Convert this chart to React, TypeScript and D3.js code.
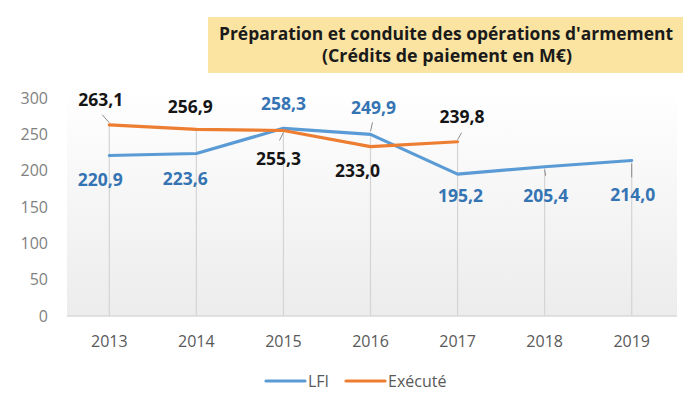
import React from "react";
import * as d3 from "d3";

const years = ["2013", "2014", "2015", "2016", "2017", "2018", "2019"];
const lfi = [220.9, 223.6, 258.3, 249.9, 195.2, 205.4, 214.0];
const execute = [263.1, 256.9, 255.3, 233.0, 239.8];
const yTicks = [0, 50, 100, 150, 200, 250, 300];
const seriesNames = ["LFI", "Exécuté"];
const titleLines = ["Préparation  et conduite  des opérations  d'armement", "(Crédits  de paiement  en M€)"];

// label layout (offset of label centre/baseline from point, optional leader vector)
const lfiLabelLayout = [
  { dx: -9, dy: 31 },
  { dx: -11, dy: 31.5 },
  { dx: 0, dy: -18 },
  { dx: 3, dy: -20, lx: 2, ly: -12 },
  { dx: 3, dy: 28 },
  { dx: 1, dy: 35, lx: 1, ly: 9 },
  { dx: 1, dy: 41, lx: 0, ly: 17 },
];
const execLabelLayout = [
  { dx: -8.5, dy: -19, lx: -7, ly: -10 },
  { dx: -6, dy: -16 },
  { dx: -5, dy: 35, lx: -4, ly: 10 },
  { dx: -13, dy: 30 },
  { dx: 4.5, dy: -19, lx: 4, ly: -9 },
];

const W = 691;
const H = 405;
const BLUE = "#5B9BD5";
const ORANGE = "#ED7D31";
const FONT = "'Open Sans', 'Noto Sans', sans-serif";

export default function App() {
  const x = d3.scalePoint<string>().domain(years).range([109.3, 631.7]);
  const y = d3.scaleLinear().domain([0, 300]).range([316, 98]);
  const plotL = 67;
  const plotR = 677;

  const line = d3
    .line<number>()
    .x((_, i) => x(years[i]) as number)
    .y((d) => y(d));

  const maxAt = years.map((_, i) => Math.max(lfi[i] ?? 0, execute[i] ?? 0));
  const fmt = (v: number) => d3.format(".1f")(v).replace(".", ",");

  return (
    <div style={{ margin: -8 }}>
      <svg width={W} height={H} style={{ display: "block", fontFamily: FONT }}>
        <defs>
          <linearGradient id="plotGrad" x1="0" y1="0" x2="0" y2="1">
            <stop offset="0" stopColor="#ffffff" />
            <stop offset="1" stopColor="#ececec" />
          </linearGradient>
        </defs>
        <rect x={0} y={0} width={W} height={H} fill="#ffffff" />
        <rect x={6.5} y={7.5} width={681} height={420} fill="#ffffff" stroke="#d9d9d9" strokeWidth={1} />

        {/* plot area */}
        <rect x={plotL} y={y(300) - 10} width={plotR - plotL} height={y(0) - y(300) + 10} fill="url(#plotGrad)" />

        {/* drop lines */}
        {years.map((yr, i) => (
          <line
            key={"drop" + yr}
            x1={x(yr)}
            x2={x(yr)}
            y1={y(maxAt[i])}
            y2={y(0)}
            stroke="#d4d4d4"
            strokeWidth={1.2}
          />
        ))}

        {/* axis line */}
        <line x1={plotL} x2={plotR} y1={y(0)} y2={y(0)} stroke="#d9d9d9" strokeWidth={1.5} />

        {/* y tick labels */}
        {yTicks.map((t) => (
          <text key={"yt" + t} x={48} y={y(t)} dy="0.36em" textAnchor="end" fontSize={16} fill="#7f7f7f">
            {t}
          </text>
        ))}

        {/* x tick labels */}
        {years.map((yr) => (
          <text key={"xt" + yr} x={x(yr)} y={347} textAnchor="middle" fontSize={16} fill="#595959">
            {yr}
          </text>
        ))}

        {/* leader lines */}
        {lfi.map((v, i) => {
          const l = lfiLabelLayout[i] as any;
          if (l.lx === undefined) return null;
          const px = x(years[i]) as number;
          const py = y(v);
          return (
            <line key={"ll" + i} x1={px} y1={py + Math.sign(l.ly) * 3} x2={px + l.lx} y2={py + l.ly} stroke="#8c8c8c" strokeWidth={1} />
          );
        })}
        {execute.map((v, i) => {
          const l = execLabelLayout[i] as any;
          if (l.lx === undefined) return null;
          const px = x(years[i]) as number;
          const py = y(v);
          return (
            <line key={"le" + i} x1={px} y1={py + Math.sign(l.ly) * 2} x2={px + l.lx} y2={py + l.ly} stroke="#8c8c8c" strokeWidth={1} />
          );
        })}

        {/* series lines */}
        <path d={line(lfi) ?? ""} fill="none" stroke={BLUE} strokeWidth={3.2} strokeLinejoin="round" strokeLinecap="round" />
        <path d={line(execute) ?? ""} fill="none" stroke={ORANGE} strokeWidth={3.2} strokeLinejoin="round" strokeLinecap="round" />

        {/* data labels */}
        {lfi.map((v, i) => (
          <text
            key={"lb" + i}
            x={(x(years[i]) as number) + lfiLabelLayout[i].dx}
            y={y(v) + lfiLabelLayout[i].dy}
            textAnchor="middle"
            fontSize={17.5}
            fontWeight="bold"
            fill="#3574b3"
          >
            {fmt(v)}
          </text>
        ))}
        {execute.map((v, i) => (
          <text
            key={"lx" + i}
            x={(x(years[i]) as number) + execLabelLayout[i].dx}
            y={y(v) + execLabelLayout[i].dy}
            textAnchor="middle"
            fontSize={17.5}
            fontWeight="bold"
            fill="#151515"
          >
            {fmt(v)}
          </text>
        ))}

        {/* title box */}
        <rect x={208} y={17} width={475} height={56} fill="#FBE4A2" />
        <text x={446} y={40} textAnchor="middle" fontSize={17} fontWeight="bold" fill="#1a1a1a" textLength={454} lengthAdjust="spacingAndGlyphs">
          {titleLines[0]}
        </text>
        <text x={447} y={62} textAnchor="middle" fontSize={17} fontWeight="bold" fill="#1a1a1a" textLength={250} lengthAdjust="spacingAndGlyphs">
          {titleLines[1]}
        </text>

        {/* legend */}
        <line x1={266} x2={305} y1={381} y2={381} stroke={BLUE} strokeWidth={3.2} strokeLinecap="round" />
        <text x={308} y={387} fontSize={16} fill="#595959">{seriesNames[0]}</text>
        <line x1={346} x2={385} y1={381} y2={381} stroke={ORANGE} strokeWidth={3.2} strokeLinecap="round" />
        <text x={388} y={387} fontSize={16} fill="#595959">{seriesNames[1]}</text>
      </svg>
    </div>
  );
}
